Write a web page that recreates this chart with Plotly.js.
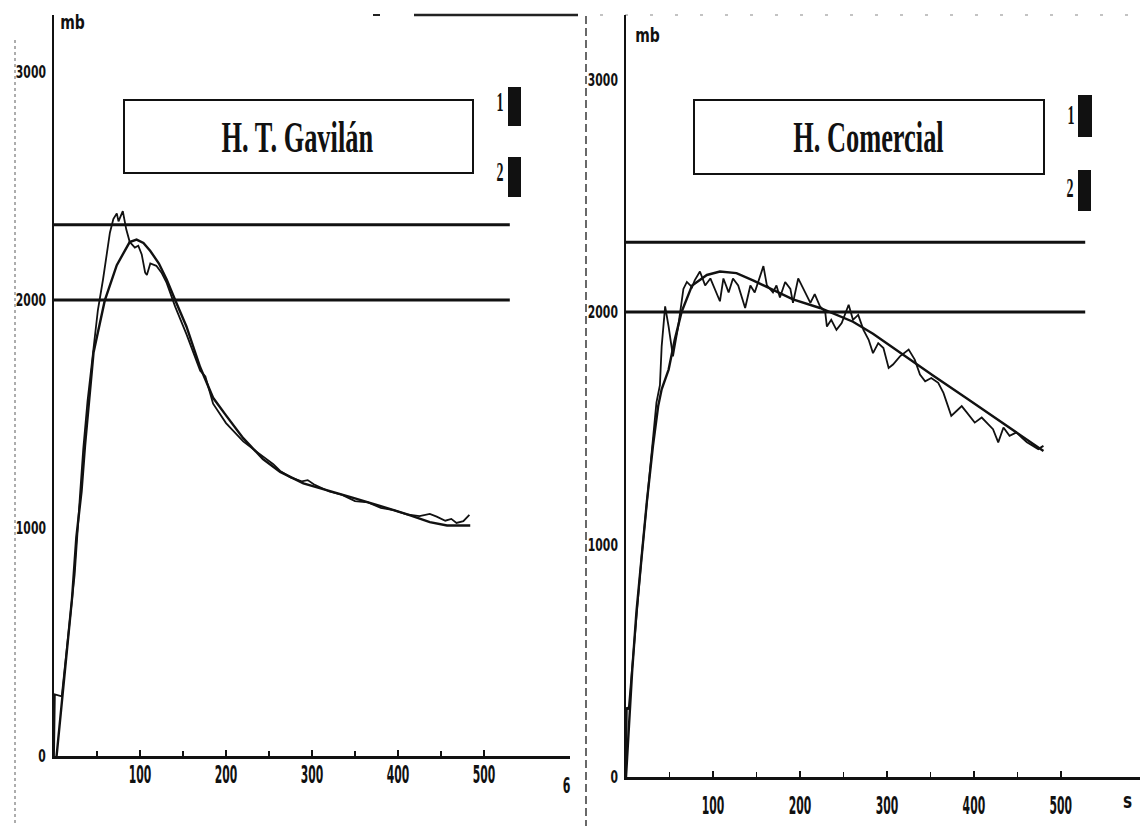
<!DOCTYPE html>
<html>
<head>
<meta charset="utf-8">
<script src="https://cdn.plot.ly/plotly-3.0.1.min.js"></script>
<style>html,body{margin:0;padding:0;background:#fff;}#chart{width:1140px;height:826px;}</style>
</head>
<body>
<div id="chart"></div>
<script>
// ---------- DATA ----------
// Panel 1: H. T. Gavilán
const gavTitle = 'H. T. Gavilán';
const gavTime1 = [0, 1, 9, 19, 24, 30, 34, 39, 46, 51, 57, 65, 69, 73, 75, 77, 80, 84, 88, 94, 98, 102, 106, 108, 112, 119, 125, 131, 141, 154, 165, 170, 176, 185, 200, 210, 220, 232, 243, 255, 263, 275, 288, 295, 302, 320, 335, 350, 365, 380, 395, 410, 425, 437, 445, 455, 462, 468, 476, 483];
const gavPress1 = [0, 270, 262, 620, 795, 1130, 1345, 1557, 1785, 1955, 2090, 2295, 2355, 2380, 2345, 2365, 2390, 2310, 2255, 2230, 2238, 2200, 2120, 2110, 2160, 2150, 2120, 2075, 1970, 1850, 1735, 1690, 1665, 1545, 1460, 1420, 1380, 1345, 1315, 1280, 1250, 1222, 1205, 1210, 1192, 1160, 1145, 1118, 1112, 1088, 1078, 1060, 1052, 1062, 1050, 1032, 1040, 1022, 1030, 1058];
const gavTime2 = [3, 13, 21, 26, 32, 36, 46, 59, 73, 88, 96, 104, 112, 122, 131, 141, 154, 170, 185, 200, 220, 243, 263, 290, 321, 348, 379, 410, 437, 457, 484];
const gavPress2 = [0, 370, 693, 960, 1162, 1359, 1770, 1997, 2153, 2254, 2265, 2250, 2215, 2160, 2090, 1999, 1884, 1705, 1571, 1494, 1394, 1302, 1246, 1196, 1160, 1132, 1097, 1061, 1026, 1011, 1011];
const gavLimits = [2330, 2000];
const gavLimitEnd = 530;

// Panel 2: H. Comercial
const comTitle = 'H. Comercial';
const comTime1 = [0, 1, 3, 7, 12, 18, 24, 30, 35, 39, 41, 45, 49, 54, 60, 66, 70, 76, 79, 85, 91, 97, 102, 108, 112, 118, 123, 129, 137, 143, 148, 154, 158, 162, 169, 173, 177, 183, 189, 192, 198, 204, 212, 217, 223, 229, 231, 236, 242, 248, 256, 261, 267, 273, 279, 284, 290, 296, 302, 307, 315, 325, 332, 338, 344, 351, 359, 365, 369, 374, 380, 386, 392, 401, 409, 415, 422, 428, 434, 441, 449, 455, 461, 468, 474, 480];
const comPress1 = [0, 300, 290, 470, 700, 950, 1180, 1410, 1610, 1685, 1852, 2024, 1937, 1809, 1937, 2099, 2129, 2107, 2136, 2174, 2114, 2144, 2099, 2046, 2144, 2084, 2144, 2114, 2017, 2114, 2084, 2152, 2197, 2114, 2084, 2114, 2062, 2129, 2099, 2039, 2144, 2099, 2039, 2077, 2024, 2001, 1937, 1966, 1923, 1952, 2031, 1966, 1987, 1923, 1880, 1823, 1866, 1845, 1759, 1774, 1809, 1838, 1795, 1731, 1702, 1716, 1695, 1652, 1610, 1553, 1574, 1595, 1567, 1524, 1546, 1524, 1496, 1439, 1503, 1467, 1482, 1460, 1439, 1424, 1410, 1424];
const comTime2 = [0, 7, 12, 18, 24, 31, 37, 41, 49, 56, 64, 76, 93, 108, 127, 146, 166, 192, 223, 242, 261, 284, 315, 353, 392, 430, 449, 480];
const comPress2 = [0, 450, 710, 954, 1184, 1424, 1595, 1667, 1752, 1880, 2001, 2114, 2159, 2174, 2167, 2136, 2099, 2054, 2017, 1987, 1958, 1906, 1825, 1727, 1628, 1530, 1479, 1402];
const comLimits = [2300, 2000];
const comLimitEnd = 528;

// Axis labels / ticks
const yTickVals = [0, 1000, 2000, 3000];
const xTickVals = [100, 200, 300, 400, 500];
const xMinorVals = [50, 150, 250, 350, 450];
const yUnit = 'mb';
const legendLabels = ['1', '2'];

// ---------- LAYOUT HELPERS ----------
const W = 1140, H = 826;
const PX = x => x / W;
const PY = y => 1 - y / H;
const INK = '#111';

function limitTraces(levels, end, xa, ya) {
  return levels.map(l => ({
    x: [0, end], y: [l, l], mode: 'lines', xaxis: xa, yaxis: ya,
    line: {color: INK, width: 3}, hoverinfo: 'skip'
  }));
}
function curve(x, y, xa, ya, w) {
  return {x: x, y: y, mode: 'lines', xaxis: xa, yaxis: ya,
    line: {color: INK, width: w, shape: 'linear'}};
}

const traces = [
  ...limitTraces(gavLimits, gavLimitEnd, 'x', 'y'),
  curve(gavTime2, gavPress2, 'x', 'y', 2.4),
  curve(gavTime1, gavPress1, 'x', 'y', 1.8),
  ...limitTraces(comLimits, comLimitEnd, 'x2', 'y2'),
  curve(comTime2, comPress2, 'x2', 'y2', 2.4),
  curve(comTime1, comPress1, 'x2', 'y2', 1.8)
];

const boldSans = 'DejaVu Sans, Liberation Sans, Arial, sans-serif';
const tickFontX = {family: boldSans, size: 24, color: INK, weight: 'bold'};
const tickFontY = {family: boldSans, size: 18, color: INK, weight: 'bold'};

function xAxis(domain, range, anchor, standoff) {
  return {
    domain: domain, range: range, anchor: anchor,
    showline: true, linecolor: INK, linewidth: 2.5,
    showgrid: false, zeroline: false,
    tickmode: 'array', tickvals: xTickVals,
    ticks: 'inside', ticklen: 6, tickwidth: 2, tickcolor: INK,
    minor: {tickmode: 'array', tickvals: xMinorVals, ticks: 'inside', ticklen: 5, tickwidth: 1.5, tickcolor: INK},
    tickfont: tickFontX, ticklabelstandoff: standoff, fixedrange: true
  };
}
function yAxis(domain, range, anchor) {
  return {
    domain: domain, range: range, anchor: anchor,
    showline: true, linecolor: INK, linewidth: 2.5,
    showgrid: false, zeroline: false,
    tickmode: 'array', tickvals: yTickVals, ticks: '',
    tickfont: tickFontY, ticklabelstandoff: 2, fixedrange: true
  };
}

const serif = 'Liberation Serif, Times New Roman, serif';
const annDefs = [
  {text: gavTitle, x: 297, y: 138, family: serif, size: 44, k: 0.6},
  {text: comTitle, x: 868, y: 138, family: serif, size: 44, k: 0.6},
  {text: legendLabels[0], x: 500, y: 102, family: serif, size: 28, k: 0.5},
  {text: legendLabels[1], x: 500, y: 172, family: serif, size: 28, k: 0.5},
  {text: legendLabels[0], x: 1071, y: 114, family: serif, size: 28, k: 0.5},
  {text: legendLabels[1], x: 1070, y: 188, family: serif, size: 28, k: 0.5},
  {text: yUnit, x: 72, y: 22, family: boldSans, size: 20, k: 0.7},
  {text: yUnit, x: 647, y: 35, family: boldSans, size: 20, k: 0.7},
  {text: '6', x: 566, y: 785, family: boldSans, size: 22, k: 0.5},
  {text: 's', x: 1127, y: 800, family: boldSans, size: 22, k: 0.7}
];
const annotations = annDefs.map(a => ({
  text: a.text, x: PX(a.x), y: PY(a.y), xref: 'paper', yref: 'paper',
  xanchor: 'center', yanchor: 'middle', showarrow: false,
  font: {family: a.family, size: a.size, color: INK, weight: 'bold'}
}));

function rect(x0, y0, x1, y1, fill, lw) {
  return {type: 'rect', xref: 'paper', yref: 'paper', x0: PX(x0), x1: PX(x1), y0: PY(y1), y1: PY(y0),
    fillcolor: fill, line: {color: INK, width: lw}};
}
function seg(x0, y0, x1, y1, color, w, dash) {
  return {type: 'line', xref: 'paper', yref: 'paper', x0: PX(x0), x1: PX(x1), y0: PY(y0), y1: PY(y1),
    line: {color: color, width: w, dash: dash || 'solid'}, layer: 'below'};
}
const shapes = [
  rect(124, 100, 473, 173, 'rgba(0,0,0,0)', 2),
  rect(694, 100, 1044, 174, 'rgba(0,0,0,0)', 2),
  rect(508, 87, 521, 126, INK, 0),
  rect(508, 157, 521, 197, INK, 0),
  rect(1078, 95, 1092, 137, INK, 0),
  rect(1078, 170, 1091, 211, INK, 0),
  // scan-edge marks of the source page
  seg(15, 40, 15, 826, '#777', 1.2, 'dot'),
  seg(373, 15, 380, 15, '#222', 2),
  seg(414, 15, 578, 15, '#222', 2.5),
  seg(586, 16, 586, 826, '#444', 1.6, '8px,4px'),
  seg(600, 15, 1140, 15, '#888', 1.2, '3px,22px')
];

const layout = {
  width: W, height: H, margin: {l: 0, r: 0, t: 0, b: 0},
  paper_bgcolor: '#fff', plot_bgcolor: 'rgba(0,0,0,0)', showlegend: false,
  xaxis: xAxis([PX(54), PX(570)], [0, 600], 'y', 0),
  yaxis: yAxis([PY(756), PY(15)], [0, 3250], 'x'),
  xaxis2: xAxis([PX(626), 1], [0, 591], 'y2', 6),
  yaxis2: yAxis([PY(777), PY(15)], [0, 3277], 'x2'),
  shapes: shapes, annotations: annotations
};

function squeezeText(el, k, dy) {
  const bb = el.getBBox();
  const anchor = getComputedStyle(el).textAnchor || el.getAttribute('text-anchor') || 'start';
  const cx = anchor === 'middle' ? bb.x + bb.width / 2 : (anchor === 'end' ? bb.x + bb.width : bb.x);
  const prev = el.getAttribute('transform') || '';
  el.setAttribute('transform', prev + ' translate(' + cx + ',' + (dy || 0) + ') scale(' + k + ',1) translate(' + (-cx) + ',0)');
}

Plotly.newPlot('chart', traces, layout, {staticPlot: true, displayModeBar: false}).then(gd => {
  gd.querySelectorAll('.xtick text').forEach(t => squeezeText(t, 0.45, -4));
  gd.querySelectorAll('.x2tick text').forEach(t => squeezeText(t, 0.45, 0));
  gd.querySelectorAll('.ytick text, .y2tick text').forEach(t => squeezeText(t, 0.6, 0));
  annDefs.forEach((a, i) => {
    gd.querySelectorAll('g.annotation[data-index="' + i + '"] text.annotation-text').forEach(t => squeezeText(t, a.k, 0));
  });
});
</script>
</body>
</html>
